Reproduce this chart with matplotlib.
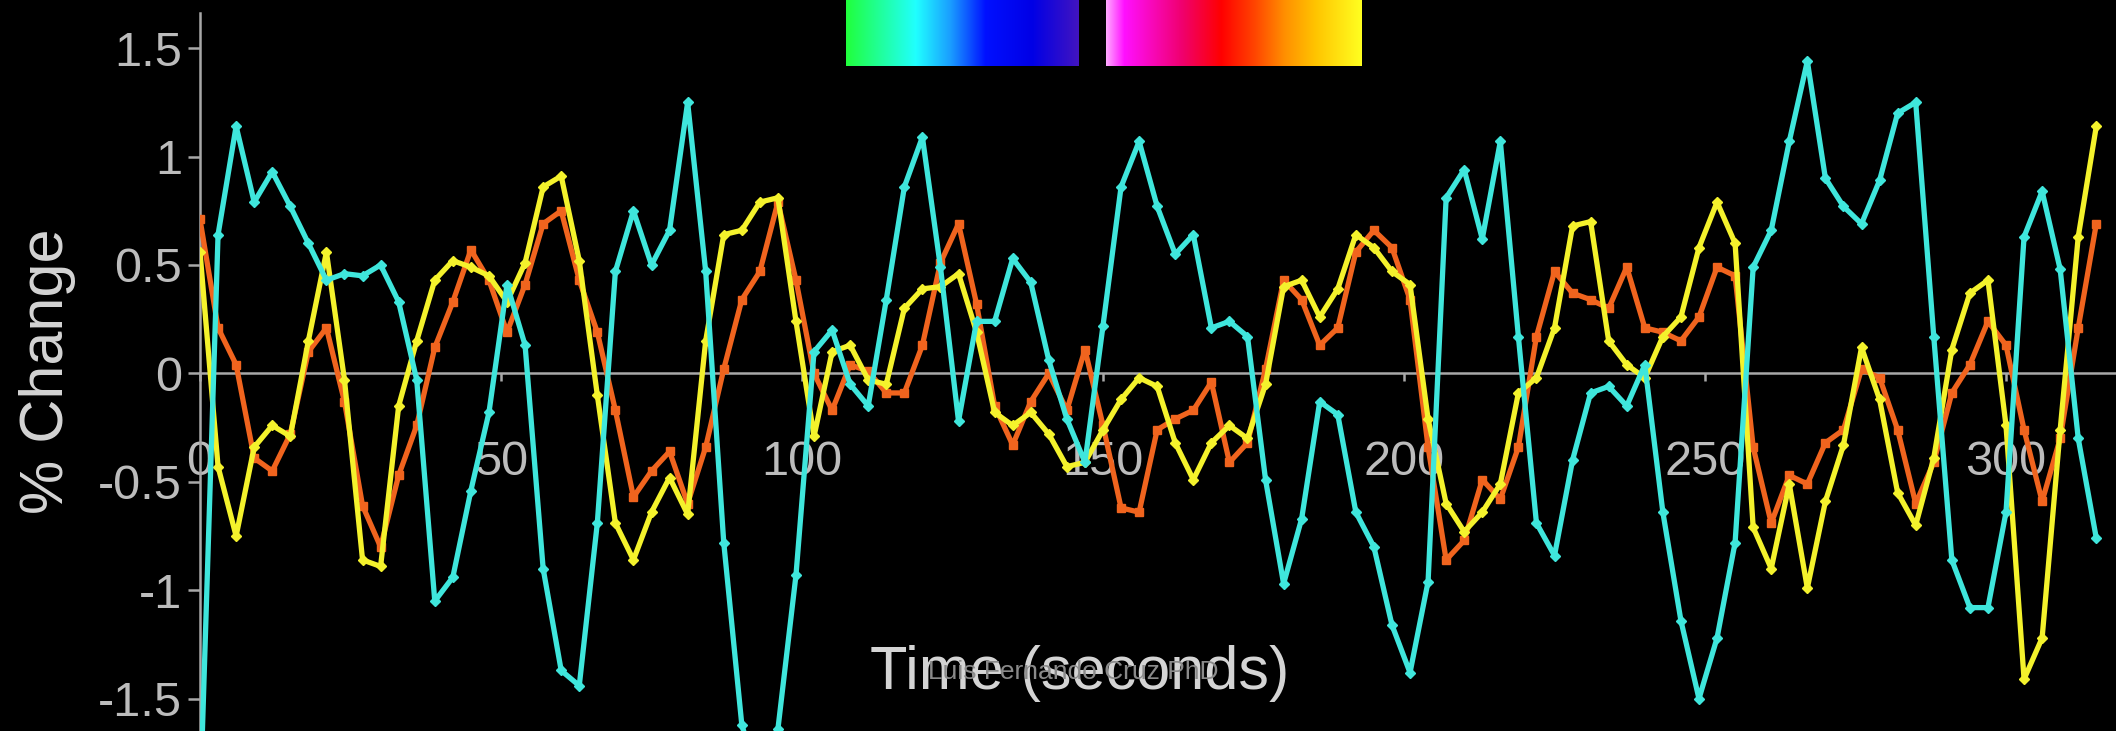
import numpy as np
import matplotlib
matplotlib.use("Agg")
import matplotlib.pyplot as plt
from matplotlib.colors import LinearSegmentedColormap

plt.rcParams['font.family'] = ['Liberation Sans', 'DejaVu Sans']

# one sample every 3 s
tr = 3
cyan = [-2.0, 0.64, 1.14, 0.79, 0.93, 0.77, 0.60, 0.43, 0.46, 0.45,
        0.50, 0.33, -0.03, -1.05, -0.94, -0.54, -0.18, 0.41, 0.13, -0.90,
        -1.37, -1.44, -0.69, 0.47, 0.75, 0.50, 0.66, 1.25, 0.47, -0.78,
        -1.62, -1.90, -1.64, -0.93, 0.10, 0.20, -0.05, -0.15, 0.34, 0.86,
        1.09, 0.49, -0.22, 0.24, 0.24, 0.53, 0.42, 0.06, -0.21, -0.41,
        0.22, 0.86, 1.07, 0.77, 0.55, 0.64, 0.21, 0.24, 0.17, -0.49,
        -0.97, -0.67, -0.13, -0.19, -0.64, -0.80, -1.16, -1.38, -0.96, 0.81,
        0.94, 0.62, 1.07, 0.17, -0.69, -0.84, -0.40, -0.09, -0.06, -0.15,
        0.04, -0.64, -1.14, -1.50, -1.22, -0.78, 0.49, 0.66, 1.07, 1.44,
        0.90, 0.77, 0.69, 0.89, 1.20, 1.25, 0.17, -0.86, -1.08, -1.08,
        -0.64, 0.63, 0.84, 0.48, -0.30, -0.76]
yellow = [0.56, -0.43, -0.75, -0.34, -0.24, -0.29, 0.15, 0.56, -0.03, -0.86,
          -0.89, -0.15, 0.15, 0.43, 0.52, 0.49, 0.45, 0.33, 0.51, 0.86,
          0.91, 0.52, -0.10, -0.69, -0.86, -0.64, -0.48, -0.65, 0.15, 0.64,
          0.66, 0.79, 0.81, 0.24, -0.29, 0.10, 0.13, -0.03, -0.05, 0.30,
          0.39, 0.40, 0.46, 0.19, -0.18, -0.24, -0.18, -0.28, -0.43, -0.41,
          -0.26, -0.12, -0.02, -0.06, -0.32, -0.49, -0.32, -0.24, -0.30, -0.05,
          0.40, 0.43, 0.26, 0.39, 0.64, 0.58, 0.47, 0.41, -0.21, -0.60,
          -0.73, -0.64, -0.51, -0.09, -0.02, 0.21, 0.68, 0.70, 0.15, 0.04,
          -0.02, 0.17, 0.26, 0.58, 0.79, 0.60, -0.71, -0.90, -0.51, -0.99,
          -0.59, -0.33, 0.12, -0.12, -0.55, -0.70, -0.39, 0.11, 0.37, 0.43,
          -0.24, -1.41, -1.22, -0.26, 0.63, 1.14]
orange = [0.71, 0.21, 0.04, -0.39, -0.45, -0.28, 0.10, 0.21, -0.13, -0.61,
          -0.80, -0.47, -0.24, 0.12, 0.33, 0.57, 0.43, 0.19, 0.41, 0.69,
          0.75, 0.43, 0.19, -0.17, -0.57, -0.45, -0.36, -0.60, -0.34, 0.02,
          0.34, 0.47, 0.79, 0.43, 0.00, -0.17, 0.04, 0.01, -0.09, -0.09,
          0.13, 0.51, 0.69, 0.32, -0.15, -0.33, -0.13, 0.00, -0.17, 0.11,
          -0.24, -0.62, -0.64, -0.26, -0.21, -0.17, -0.04, -0.41, -0.32, 0.02,
          0.43, 0.34, 0.13, 0.21, 0.56, 0.66, 0.58, 0.34, -0.34, -0.86,
          -0.77, -0.49, -0.58, -0.34, 0.17, 0.47, 0.37, 0.34, 0.30, 0.49,
          0.21, 0.19, 0.15, 0.26, 0.49, 0.45, -0.34, -0.69, -0.47, -0.51,
          -0.32, -0.26, 0.02, -0.02, -0.26, -0.60, -0.41, -0.09, 0.04, 0.24,
          0.13, -0.26, -0.59, -0.30, 0.21, 0.69]
time = np.arange(len(cyan)) * tr

xticks = [0, 50, 100, 150, 200, 250, 300]
yticks = [-1.5, -1, -0.5, 0, 0.5, 1, 1.5]
yticklabels = ['-1.5', '-1', '-0.5', '0', '0.5', '1', '1.5']

W, H = 2116, 731
fig = plt.figure(figsize=(W / 100, H / 100), dpi=100, facecolor='black')
ax = fig.add_axes([200 / W, 0, 1 - 200 / W, 1])
ax.set_facecolor('black')

ax.plot(time, orange, color='#f0641e', lw=3.8, marker='s', ms=6, zorder=3)
ax.plot(time, yellow, color='#f4f22c', lw=3.8, marker='D', ms=5, zorder=3)
ax.plot(time, cyan, color='#3fe6dc', lw=3.8, marker='D', ms=5, zorder=3)

ax.set_xlim(0, (W - 200) / 6.02)
ax.set_ylim(-1.649, 1.722)
ax.set_axisbelow(True)

grey = '#a8a8a8'
for s in ['top', 'right']:
    ax.spines[s].set_visible(False)
ax.spines['bottom'].set_position(('data', 0))
ax.spines['left'].set_bounds(-1.65, 1.66)
for s in ['bottom', 'left']:
    ax.spines[s].set_color(grey)
    ax.spines[s].set_linewidth(1.8)

ax.set_xticks(xticks)
ax.set_xticklabels([str(t) for t in xticks])
ax.set_yticks(yticks)
ax.set_yticklabels(yticklabels)
ax.tick_params(axis='x', direction='out', length=6, width=1.8, color=grey,
               pad=42, labelsize=35, labelcolor='#bcbcbc')
ax.tick_params(axis='y', direction='out', length=9, width=1.8, color=grey,
               pad=4, labelsize=35, labelcolor='#bcbcbc')

# colour bars at the top
cm1 = LinearSegmentedColormap.from_list('c1', [
    (0.0, '#20ff3c'), (0.3, '#20ffff'), (0.45, '#1a9cff'), (0.6, '#0010ff'),
    (0.8, '#0000e6'), (1.0, '#4214c0')])
cm2 = LinearSegmentedColormap.from_list('c2', [
    (0.0, '#ffa8ff'), (0.07, '#ff10ff'), (0.3, '#f0006c'), (0.45, '#ff0000'),
    (0.58, '#ff4400'), (0.7, '#ff9000'), (0.82, '#ffc400'), (1.0, '#ffff20')])
grad = np.linspace(0, 1, 256).reshape(1, -1)
for x0, x1, cm in [(846, 1079, cm1), (1106, 1362, cm2)]:
    cax = fig.add_axes([x0 / W, 1 - 66 / H, (x1 - x0) / W, 66 / H])
    cax.imshow(grad, aspect='auto', cmap=cm)
    cax.axis('off')

fig.text(47 / W, 1 - 371 / H, '% Change', rotation=90, fontsize=44,
         color='#d4d4d4', ha='center', va='center')
fig.text(1080 / W, 1 - 673 / H, 'Time (seconds)', fontsize=44,
         color='#d4d4d4', ha='center', va='center')
# watermark sits on top of the axis title, as in the source frame
fig.text(1073 / W, 1 - 672 / H, 'Luis Fernando Cruz PhD', fontsize=19,
         color='#8a8a8a', ha='center', va='center', zorder=10)

fig.savefig('out.png', dpi=100, facecolor='black')
